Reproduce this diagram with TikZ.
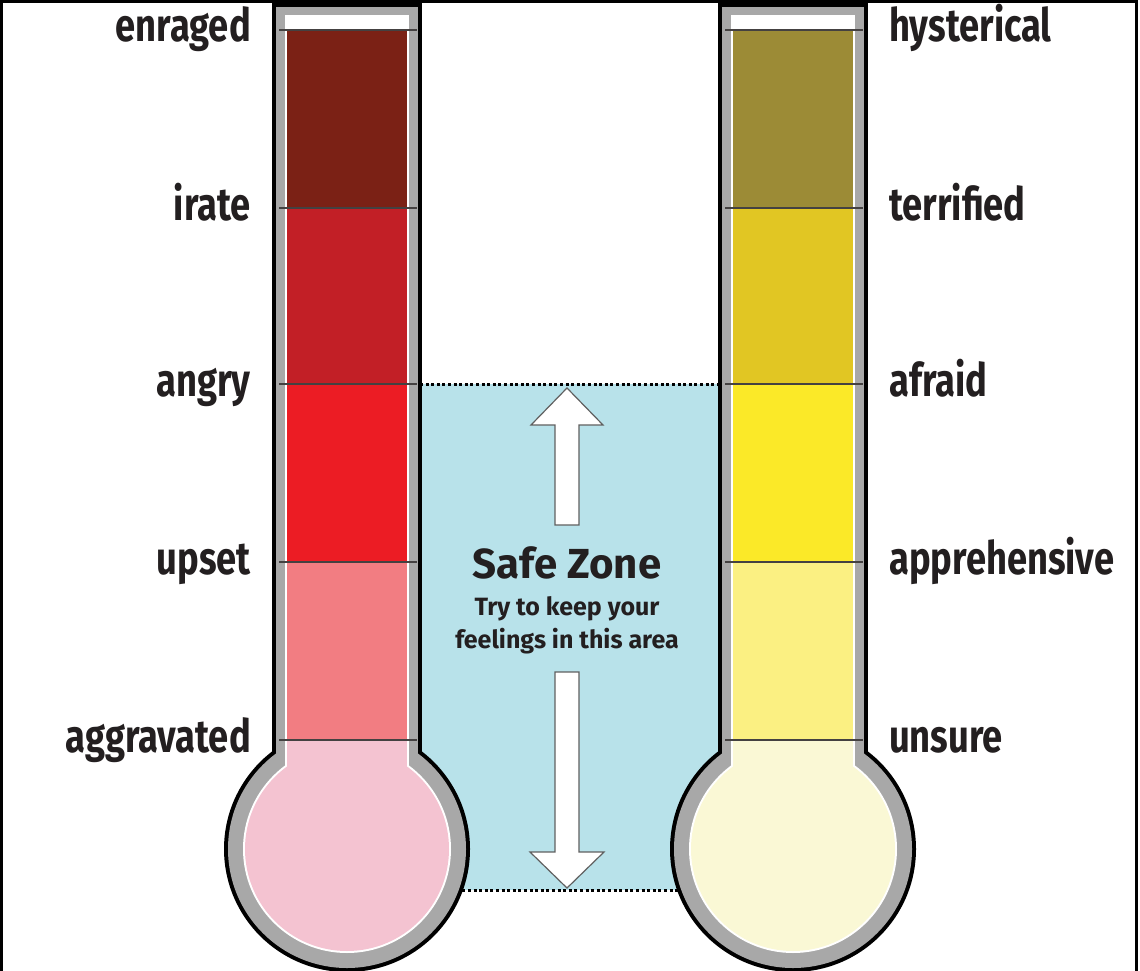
\documentclass[tikz,border=0pt]{standalone}
\usepackage{fontspec}
\newfontfamily\lblfont[FakeStretch=0.79]{Fira Sans}
\newfontfamily\zonefont{Fira Sans}
\usetikzlibrary{positioning}
\usepackage{xcolor}

\definecolor{ink}{HTML}{231F20}
\definecolor{wall}{HTML}{A8A8A8}
\definecolor{zone}{HTML}{B8E2EA}
\definecolor{rageA}{HTML}{7B2115}
\definecolor{rageB}{HTML}{C21F26}
\definecolor{rageC}{HTML}{EC1C24}
\definecolor{rageD}{HTML}{F27D82}
\definecolor{rageBulb}{HTML}{F4C3D1}
\definecolor{fearA}{HTML}{9C8B36}
\definecolor{fearB}{HTML}{E1C623}
\definecolor{fearC}{HTML}{FBE928}
\definecolor{fearD}{HTML}{FBF082}
\definecolor{fearBulb}{HTML}{FAF8D5}

\begin{document}
\begin{tikzpicture}[
    x=1pt, y=-1pt,
    leftlabel/.style={
        anchor=base east,
        inner sep=0pt,
        text=ink,
        font=\lblfont\bfseries\fontsize{46}{48}\selectfont
    },
    rightlabel/.style={
        leftlabel,
        anchor=base west
    },
    zonetitle/.style={
        anchor=base,
        inner sep=0pt,
        text=ink,
        font=\zonefont\bfseries\fontsize{42}{44}\selectfont
    },
    zonehint/.style={
        zonetitle,
        font=\zonefont\bfseries\fontsize{25}{27}\selectfont
    },
    levelline/.style={draw=ink!85, line width=1.6pt},
    bigarrow/.style={fill=white, draw=gray!75!black, line width=1.2pt},
    dotline/.style={draw=black, line width=3pt, dash pattern=on 3pt off 2.6pt}
]

\useasboundingbox (0,0) rectangle (1140,971);
\fill[white] (0,0) rectangle (1140,971);

\fill[zone] (420,384) rectangle (720,890);
\draw[dotline] (420,384) -- (720,384);
\draw[dotline] (440,890) -- (700,890);

\foreach \cx/\bulb in {347/rageBulb, 793/fearBulb} {
    \fill[black] (\cx-75,3) rectangle (\cx+75,800);
    \fill[black] (\cx,849) circle[radius=123];
    \fill[wall] (\cx-71,7) rectangle (\cx+71,800);
    \fill[wall] (\cx,849) circle[radius=119];
    \fill[white] (\cx-62,15) rectangle (\cx+62,800);
    \fill[white] (\cx,849) circle[radius=104];
    \fill[\bulb] (\cx-60,740) rectangle (\cx+60,800);
    \fill[\bulb] (\cx,849) circle[radius=102];
}

\foreach \ytop/\ybot/\lcol/\rcol in {30/208/rageA/fearA, 208/384/rageB/fearB,
        384/562/rageC/fearC, 562/740/rageD/fearD} {
    \fill[\lcol] (287,\ytop) rectangle (407,\ybot);
    \fill[\rcol] (733,\ytop) rectangle (853,\ybot);
}

\foreach \y in {30,208,384,562,740} {
    \draw[levelline] (279,\y) -- (417,\y);
    \draw[levelline] (725,\y) -- (863,\y);
}

\foreach \y/\ltext/\rtext in {30/enraged/hysterical, 208/irate/terrified,
        384/angry/afraid, 562/upset/apprehensive, 740/aggravated/unsure} {
    \node[leftlabel] (\ltext) at (251,\y+12) {\ltext};
    \node[rightlabel] (\rtext) at (889,\y+12) {\rtext};
}

\draw[bigarrow] (567,388) -- (603,425) -- (579,425) -- (579,525)
    -- (555,525) -- (555,425) -- (531,425) -- cycle;
\draw[bigarrow] (567,888) -- (604,852) -- (579,852) -- (579,672)
    -- (555,672) -- (555,852) -- (530,852) -- cycle;

\node[zonetitle] (safe) at (567,578) {Safe Zone};
\node[zonehint] (tryline) at (567,615) {Try to keep your};
\node[zonehint] (feelline) at (567,648) {feelings in this area};

\draw[line width=3pt] (1.5,971) -- (1.5,1.5) -- (1136.5,1.5) -- (1136.5,971);

\end{tikzpicture}
\end{document}
